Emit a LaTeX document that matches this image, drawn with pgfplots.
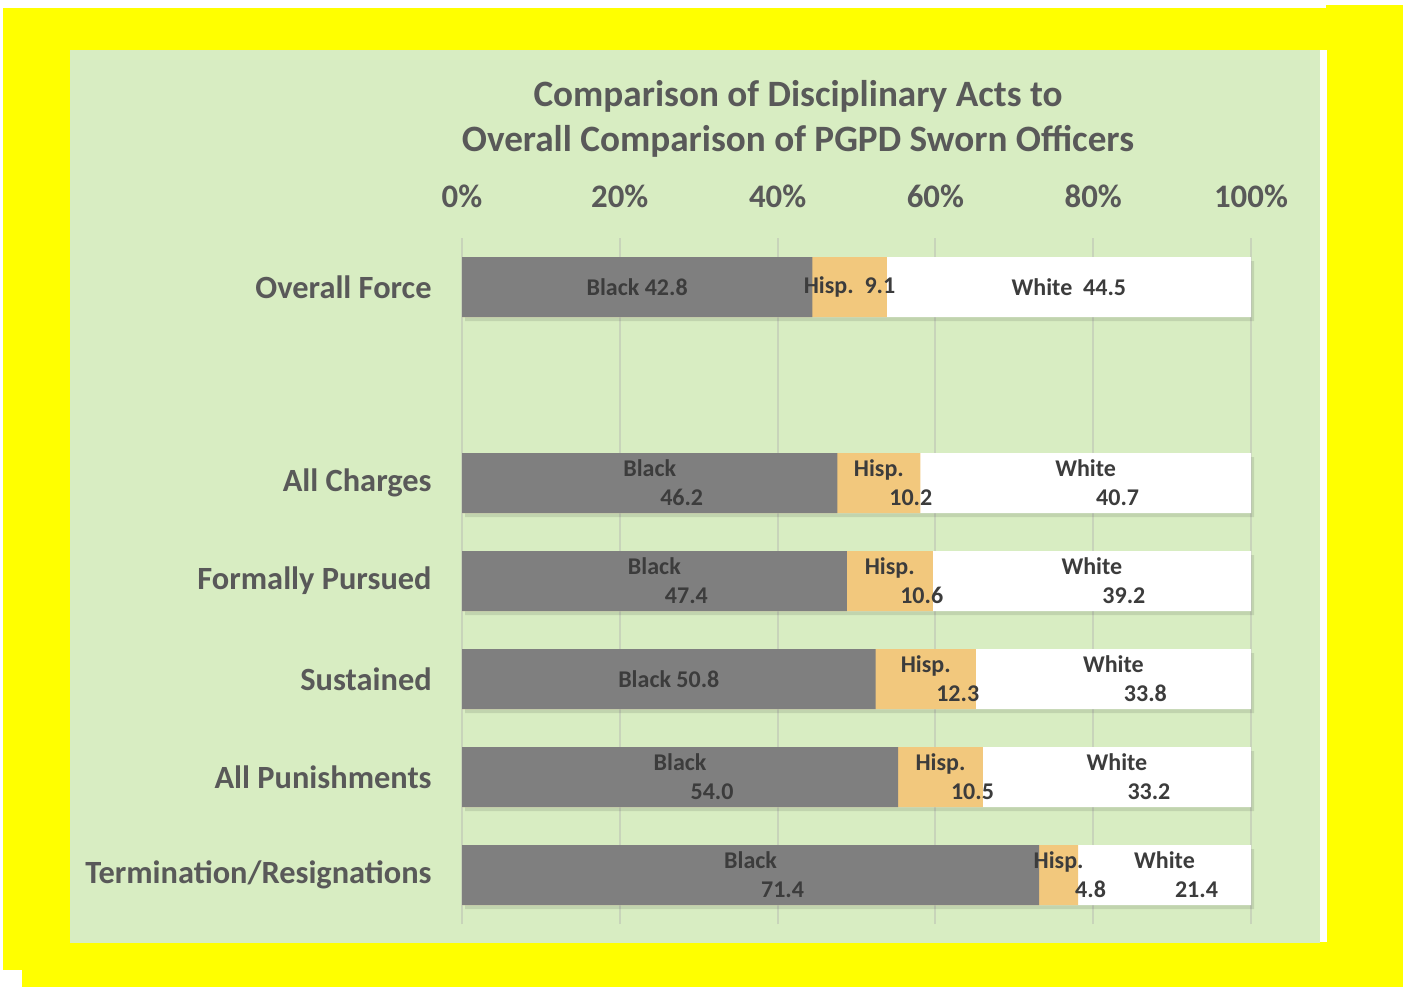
\documentclass[border=0pt]{standalone}
\usepackage{pgfplots}
\usepackage{pgfplotstable}
\pgfplotsset{compat=1.18}
\usepackage{fontspec}
\setmainfont{Carlito}
\usetikzlibrary{shadows}
\definecolor{ygold}{RGB}{255,255,0}
\definecolor{bgreen}{RGB}{216,237,194}
\definecolor{tgray}{RGB}{89,89,89}
\definecolor{lgray}{RGB}{60,60,60}
\definecolor{blk}{RGB}{127,127,127}
\definecolor{hsp}{RGB}{242,200,125}
\definecolor{gridc}{RGB}{200,212,186}
\protected\def\two#1#2{#1\\\hspace*{32pt}#2}
\pgfplotstableread[col sep=comma]{
pos,B,H,W,LB,LH,LW
6,42.8,9.1,44.5,Black 42.8,Hisp.\ \ 9.1,White\ \ 44.5
4,46.2,10.2,40.7,\two{Black}{46.2},\two{Hisp.}{10.2},\two{White}{40.7}
3,47.4,10.6,39.2,\two{Black}{47.4},\two{Hisp.}{10.6},\two{White}{39.2}
2,50.8,12.3,33.8,Black 50.8,\two{Hisp.}{12.3},\two{White}{33.8}
1,54.0,10.5,33.2,\two{Black}{54.0},\two{Hisp.}{10.5},\two{White}{33.2}
0,71.4,4.8,21.4,\two{Black}{71.4},\two{Hisp.}{4.8},\two{White}{21.4}
}\data
\begin{document}
\begin{tikzpicture}
\fill[white] (0pt,0pt) rectangle (704.5pt,-493.5pt);
\fill[ygold] (1.5pt,-4pt) rectangle (701.5pt,-493.5pt);
\fill[ygold] (663pt,-2.5pt) rectangle (701.5pt,-4pt);
\fill[white] (0pt,-485pt) rectangle (11pt,-493.5pt);
\fill[white] (0pt,-4pt) rectangle (1.5pt,-493.5pt);
\fill[white] (660pt,-25pt) rectangle (663.5pt,-471pt);
\fill[bgreen] (35pt,-25pt) rectangle (660pt,-471.5pt);
\node[align=center, font=\bfseries\fontsize{18.6}{22.5}\selectfont, text=tgray] at (399pt,-59.5pt)
  {Comparison of Disciplinary Acts to\\Overall Comparison of PGPD Sworn Officers};
\begin{axis}[
  at={(231pt,-119pt)}, anchor=north west,
  scale only axis, width=394.5pt, height=343pt,
  xmin=0, xmax=100, ymin=-0.5, ymax=6.5,
  axis x line*=top, axis y line*=left,
  axis line style={draw=none},
  xtick={0,20,40,60,80,100},
  xticklabels={0\%,20\%,40\%,60\%,80\%,100\%},
  ytick={0,1,2,3,4,6},
  yticklabels={Termination/Resignations,All Punishments,Sustained,Formally Pursued,All Charges,Overall Force},
  major tick length=0pt, tick style={draw=none},
  xmajorgrids, ymajorgrids=false,
  major grid style={gridc, line width=1pt},
  xticklabel style={anchor=center, inner sep=0pt, yshift=21pt, font=\bfseries\fontsize{16.4}{18}\selectfont, text=tgray},
  yticklabel style={anchor=east, inner sep=0pt, xshift=-15pt, font=\bfseries\fontsize{16.2}{18}\selectfont, text=tgray},
  clip=false,
]
\addplot[xbar, bar width=30pt, bar shift=0pt, fill=white, draw=none,
  drop shadow={shadow xshift=1.5pt, shadow yshift=-2pt, fill=black, opacity=0.10}]
  table[x expr={100}, y=pos] {\data};
\addplot[xbar, bar width=30pt, bar shift=0pt, fill=hsp, draw=none]
  table[x expr={100*(\thisrow{B}+\thisrow{H})/(\thisrow{B}+\thisrow{H}+\thisrow{W})}, y=pos] {\data};
\addplot[xbar, bar width=30pt, bar shift=0pt, fill=blk, draw=none]
  table[x expr={100*\thisrow{B}/(\thisrow{B}+\thisrow{H}+\thisrow{W})}, y=pos] {\data};
\pgfplotsset{labstyle/.style={only marks, mark=none,
  nodes near coords, point meta=explicit symbolic,
  nodes near coords style={anchor=center, align=center, inner sep=0pt,
    font=\bfseries\fontsize{12}{14.5}\selectfont, text=lgray}}}
\addplot[labstyle]
  table[x expr={50*\thisrow{B}/(\thisrow{B}+\thisrow{H}+\thisrow{W})}, y=pos, meta=LB] {\data};
\addplot[labstyle]
  table[x expr={100*(\thisrow{B}+0.5*\thisrow{H})/(\thisrow{B}+\thisrow{H}+\thisrow{W})}, y=pos, meta=LH] {\data};
\addplot[labstyle]
  table[x expr={100*(\thisrow{B}+\thisrow{H}+0.5*\thisrow{W})/(\thisrow{B}+\thisrow{H}+\thisrow{W})}, y=pos, meta=LW] {\data};
\end{axis}
\end{tikzpicture}
\end{document}
